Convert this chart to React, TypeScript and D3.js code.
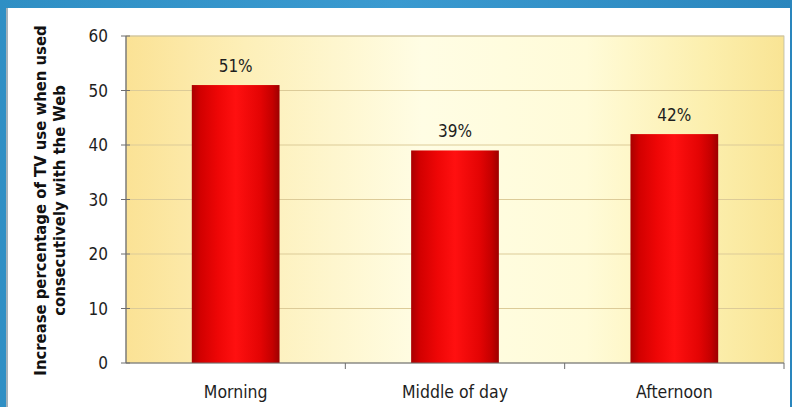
import * as d3 from "d3";

const categories = ["Morning", "Middle of day", "Afternoon"];
const values = [51, 39, 42];
const valueLabels = ["51%", "39%", "42%"];
const yTicks = [0, 10, 20, 30, 40, 50, 60];
const yTitle = ["Increase percentage of TV use when used", "consecutively with the Web"];

const W = 792;
const H = 407;
const plot = { left: 126, right: 784, top: 36, bottom: 363 };
const font = "'Liberation Sans Narrow', 'DejaVu Sans Condensed', 'Roboto', sans-serif";

export default function App() {
  const x = d3.scaleBand().domain(categories).range([plot.left, plot.right]).padding(0);
  const y = d3.scaleLinear().domain([0, 60]).range([plot.bottom, plot.top]);
  const bw = x.bandwidth() * 0.4;

  return (
    <svg
      width={W}
      height={H}
      style={{ position: "absolute", left: 0, top: 0 }}
      fontFamily={font}
    >
      <defs>
        <linearGradient id="bg" x1="0" x2="1" y1="0" y2="0">
          <stop offset="0" stopColor="#fbe295" />
          <stop offset="0.18" stopColor="#fdefb8" />
          <stop offset="0.45" stopColor="#fffde4" />
          <stop offset="0.7" stopColor="#fffbd8" />
          <stop offset="0.88" stopColor="#fcefae" />
          <stop offset="1" stopColor="#f9e494" />
        </linearGradient>
        <linearGradient id="bar" x1="0" x2="1" y1="0" y2="0">
          <stop offset="0" stopColor="#a80000" />
          <stop offset="0.1" stopColor="#d20000" />
          <stop offset="0.3" stopColor="#ee0606" />
          <stop offset="0.5" stopColor="#ff1010" />
          <stop offset="0.78" stopColor="#e40404" />
          <stop offset="0.92" stopColor="#c40000" />
          <stop offset="1" stopColor="#9c0000" />
        </linearGradient>
        <linearGradient id="frame" x1="0" x2="1" y1="0" y2="0">
          <stop offset="0" stopColor="#2f8fc4" />
          <stop offset="0.5" stopColor="#3a9ad0" />
          <stop offset="1" stopColor="#2a86bd" />
        </linearGradient>
      </defs>

      {/* outer blue frame and white panel */}
      <rect x={0} y={0} width={W} height={H} fill="url(#frame)" />
      <rect x={6} y={8} width={W - 8} height={H - 8} fill="#ffffff" />
      <line x1={7} x2={7} y1={8} y2={H} stroke="#6a7f8c" strokeWidth={1.2} />

      {/* plot background */}
      <rect
        x={plot.left}
        y={plot.top}
        width={plot.right - plot.left}
        height={plot.bottom - plot.top}
        fill="url(#bg)"
        stroke="#b8b8a8"
        strokeWidth={0.8}
      />

      {/* gridlines */}
      {yTicks.slice(1).map((t) => (
        <line
          key={"g" + t}
          x1={plot.left}
          x2={plot.right}
          y1={y(t)}
          y2={y(t)}
          stroke="#dccb98"
          strokeWidth={1}
        />
      ))}

      {/* bars */}
      {categories.map((c, i) => {
        const cx = (x(c) ?? 0) + x.bandwidth() / 2;
        return (
          <g key={c}>
            <rect
              x={cx - bw / 2}
              y={y(values[i])}
              width={bw}
              height={y(0) - y(values[i])}
              fill="url(#bar)"
            />
            <text
              x={cx}
              y={y(values[i]) - 13}
              textAnchor="middle"
              fontSize={17}
              fill="#1e1e1e"
            >
              {valueLabels[i]}
            </text>
            <text x={cx} y={398} textAnchor="middle" fontSize={17.5} fill="#1e1e1e">
              {c}
            </text>
          </g>
        );
      })}

      {/* axes */}
      <line x1={plot.left} x2={plot.left} y1={plot.top} y2={plot.bottom} stroke="#6e6e6e" strokeWidth={1.2} />
      <line x1={plot.left} x2={plot.right} y1={plot.bottom} y2={plot.bottom} stroke="#6e6e6e" strokeWidth={1.2} />
      {yTicks.map((t) => (
        <g key={"t" + t}>
          <line x1={plot.left - 5} x2={plot.left + 4} y1={y(t)} y2={y(t)} stroke="#6e6e6e" strokeWidth={1} />
          <text x={108} y={y(t) + 6} textAnchor="end" fontSize={17} fill="#1e1e1e">
            {t}
          </text>
        </g>
      ))}
      {categories.map((c, i) => {
        if (i === 0) return null;
        const xx = x(c) ?? 0;
        return (
          <line key={"xt" + c} x1={xx} x2={xx} y1={plot.bottom} y2={plot.bottom + 6} stroke="#6e6e6e" strokeWidth={1} />
        );
      })}
      <line x1={plot.right} x2={plot.right} y1={plot.bottom} y2={plot.bottom + 6} stroke="#6e6e6e" strokeWidth={1} />

      {/* y title */}
      <text
        transform={`translate(46,${(plot.top + plot.bottom) / 2 + 1}) rotate(-90)`}
        textAnchor="middle"
        fontSize={16.5}
        fontWeight="bold"
        fill="#111"
      >
        {yTitle[0]}
      </text>
      <text
        transform={`translate(65,${(plot.top + plot.bottom) / 2 + 1}) rotate(-90)`}
        textAnchor="middle"
        fontSize={16.5}
        fontWeight="bold"
        fill="#111"
      >
        {yTitle[1]}
      </text>
    </svg>
  );
}
